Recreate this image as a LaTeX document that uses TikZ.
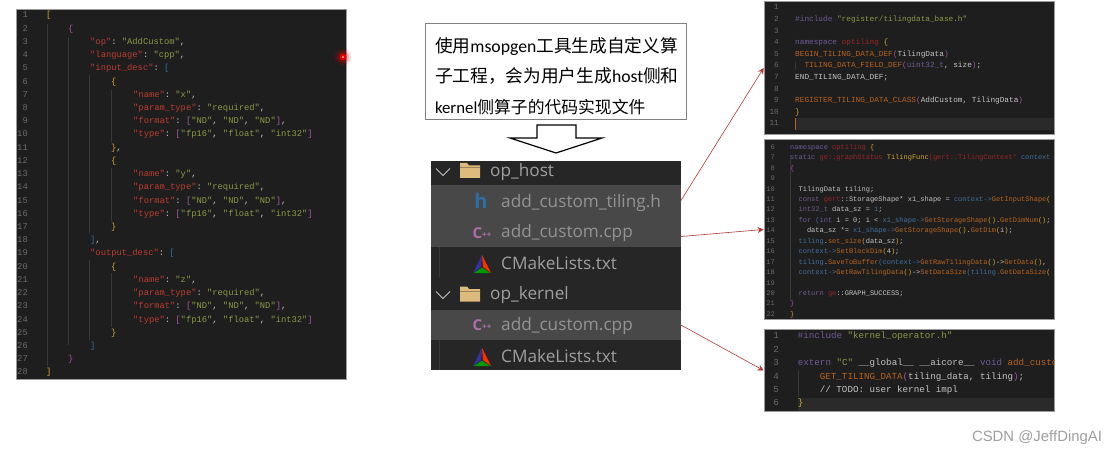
\documentclass[tikz,border=0pt]{standalone}
\usepackage{fontspec}
\setmonofont{Liberation Mono}
\newfontfamily\zhfont{Noto Sans CJK SC}
\newfontfamily\uifont{Open Sans}
\newfontfamily\boxfont{Carlito}
\newfontfamily\markfont{Liberation Sans}
\usepackage{xcolor}
\definecolor{panelbg}{HTML}{1E1E1E}
\definecolor{panelline}{HTML}{9A9A9A}
\definecolor{curline}{HTML}{2A2A2A}
\definecolor{guide}{HTML}{383838}
\definecolor{linenum}{HTML}{6A6A6A}
\definecolor{plain}{HTML}{C4C4C4}
\definecolor{cokey}{HTML}{BC3C30}
\definecolor{costr}{HTML}{8A9A48}
\definecolor{cokw}{HTML}{6F5C98}
\definecolor{cofn}{HTML}{B8641E}
\definecolor{cotype}{HTML}{9A2626}
\definecolor{covar}{HTML}{41709F}
\definecolor{coyel}{HTML}{D0A52C}
\definecolor{copur}{HTML}{A2559F}
\definecolor{coblu}{HTML}{2C6CA8}
\definecolor{rowdark}{HTML}{262627}
\definecolor{rowlit}{HTML}{484848}
\definecolor{arrowred}{HTML}{B23A36}
\definecolor{foldertan}{HTML}{DDBB7C}
\definecolor{hblue}{HTML}{2E6EA6}
\newcommand{\ckey}[1]{\textcolor{cokey}{#1}}
\newcommand{\cstr}[1]{\textcolor{costr}{#1}}
\newcommand{\ckw}[1]{\textcolor{cokw}{#1}}
\newcommand{\cfn}[1]{\textcolor{cofn}{#1}}
\newcommand{\ctype}[1]{\textcolor{cotype}{#1}}
\newcommand{\cvar}[1]{\textcolor{covar}{#1}}
\newcommand{\cyel}[1]{\textcolor{coyel}{#1}}
\newcommand{\cpur}[1]{\textcolor{copur}{#1}}
\newcommand{\cblu}[1]{\textcolor{coblu}{#1}}
\newcommand{\zh}[1]{{\zhfont #1}}
\usepackage{tikz}
\usetikzlibrary{arrows.meta, positioning}

\begin{document}
\begin{tikzpicture}[x=1pt, y=-1pt,
  panel/.style={draw=panelline, fill=panelbg, inner sep=0pt, line width=0.7pt},
  codeline/.style={anchor=west, inner sep=0pt, text height=6pt, text depth=2pt, text=plain},
  numline/.style={anchor=east, inner sep=0pt, text height=6pt, text depth=2pt, text=linenum},
  jsonfont/.style={font=\ttfamily\fontsize{8.8}{10}\selectfont},
  afont/.style={font=\ttfamily\fontsize{7.75}{9}\selectfont},
  bfont/.style={font=\ttfamily\fontsize{7}{8}\selectfont},
  cfont/.style={font=\ttfamily\fontsize{9.2}{11}\selectfont},
  indent/.style={draw=guide, line width=0.6pt},
  filerow/.style={minimum width=250pt, inner sep=0pt, outer sep=0pt},
  filename/.style={anchor=west, inner sep=0pt, font=\uifont\fontsize{17.2}{19}\selectfont},
  redline/.style={-{Stealth[length=6pt, width=6pt]}, draw=arrowred, line width=0.6pt},
  folder/.pic={
    \fill[foldertan] (-10,-7.5) -- (-3,-7.5) -- (-1,-5) -- (10,-5) -- (10,7.5) -- (-10,7.5) -- cycle;
    \fill[foldertan!70!black] (-10,-3) rectangle (10,-2);
  },
  chevron/.pic={
    \draw[plain, line width=0.9pt] (-7,-3.5) -- (0,3.5) -- (7,-3.5);
  },
  cmake/.pic={
    \fill[blue!55!black!80!white] (0,-9) -- (-1,3) -- (-9,9) -- cycle;
    \fill[red!65!orange] (0,-9) -- (9,9) -- (1,3) -- cycle;
    \fill[green!60!black] (-8,9) -- (0,3.5) -- (8,9) -- cycle;
  }
]
  \path[use as bounding box, fill=white] (0,0) rectangle (1116,457);

  \node[panel, minimum width=330pt, minimum height=370pt] (jsonpanel) at (181,194) {};
  \foreach \x/\a/\b in {47/24/366, 68/37/345, 89/75/233, 89/260/340, 111/90/142, 111/168/221, 111/273/327}
    \draw[indent] (\x,\a) -- (\x,\b);
  \foreach \n in {1,...,28}
    \node[numline, jsonfont] (j\n) at (28,{16+13.22*(\n-1)}) {\n};
  \foreach \n/\x/\code in {
    1/46/{\cyel{[}},
    2/68/{\cpur{\{}},
    3/90/{\ckey{"op"}: \cstr{"AddCustom"},},
    4/90/{\ckey{"language"}: \cstr{"cpp"},},
    5/90/{\ckey{"input\_desc"}: \cblu{[}},
    6/111/{\cyel{\{}},
    7/133/{\ckey{"name"}: \cstr{"x"},},
    8/133/{\ckey{"param\_type"}: \cstr{"required"},},
    9/133/{\ckey{"format"}: \cpur{[}\cstr{"ND"}, \cstr{"ND"}, \cstr{"ND"}\cpur{]},},
    10/133/{\ckey{"type"}: \cpur{[}\cstr{"fp16"}, \cstr{"float"}, \cstr{"int32"}\cpur{]}},
    11/111/{\cyel{\}},},
    12/111/{\cyel{\{}},
    13/133/{\ckey{"name"}: \cstr{"y"},},
    14/133/{\ckey{"param\_type"}: \cstr{"required"},},
    15/133/{\ckey{"format"}: \cpur{[}\cstr{"ND"}, \cstr{"ND"}, \cstr{"ND"}\cpur{]},},
    16/133/{\ckey{"type"}: \cpur{[}\cstr{"fp16"}, \cstr{"float"}, \cstr{"int32"}\cpur{]}},
    17/111/{\cyel{\}}},
    18/90/{\cblu{]},},
    19/90/{\ckey{"output\_desc"}: \cblu{[}},
    20/111/{\cyel{\{}},
    21/133/{\ckey{"name"}: \cstr{"z"},},
    22/133/{\ckey{"param\_type"}: \cstr{"required"},},
    23/133/{\ckey{"format"}: \cpur{[}\cstr{"ND"}, \cstr{"ND"}, \cstr{"ND"}\cpur{]},},
    24/133/{\ckey{"type"}: \cpur{[}\cstr{"fp16"}, \cstr{"float"}, \cstr{"int32"}\cpur{]}},
    25/111/{\cyel{\}}},
    26/90/{\cblu{]}},
    27/68/{\cpur{\}}},
    28/46/{\cyel{]}}}
    \node[codeline, jsonfont] (js\n) at (\x,{16+13.22*(\n-1)}) {\code};

  \fill[red, opacity=0.12] (343,57) circle (8.5);
  \fill[red, opacity=0.2] (343,57) circle (6);
  \fill[red!90!black] (343,57) circle (3.5);
  \fill[red!30!white] (343,57) circle (1.2);

  \node[draw=gray, fill=white, line width=0.7pt, inner xsep=9.5pt, inner ysep=0pt,
    minimum width=261pt, minimum height=96pt, text width=242pt, align=left,
    font=\boxfont\fontsize{17.7}{30.5}\selectfont] (intro) at (556,71)
    {\rule{0pt}{25pt}\zh{使用}msopgen\zh{工具生成自定义算}\\
     \zh{子工程，会为用户生成}host\zh{侧和}\\
     {\fontsize{16.8}{30.5}\selectfont kernel\zh{侧算子的代码实现文件}}};
  \draw[black, fill=white, line width=1.2pt] (537,125) -- (576,125) -- (576,138) -- (602,138)
    -- (556,153) -- (510,138) -- (537,138) -- cycle;

  \node[filerow, fill=rowdark, minimum height=24pt]  (hostrow) at (556,173) {};
  \node[filerow, fill=rowlit, minimum height=31pt]   (tilingrow) at (556,200.5) {};
  \node[filerow, fill=rowlit, minimum height=31pt]   (cpprow) at (556,231.5) {};
  \node[filerow, fill=rowdark, minimum height=32pt]  (cmakerow) at (556,263) {};
  \node[filerow, fill=rowdark, minimum height=31pt]  (kernelrow) at (556,294.5) {};
  \node[filerow, fill=rowlit, minimum height=30pt]   (kcpprow) at (556,325) {};
  \node[filerow, fill=rowdark, minimum height=30pt]  (kcmakerow) at (556,355) {};
  \draw[indent] (439,247) -- (439,277);
  \draw[indent] (439,340) -- (439,370);

  \pic at (443,172) {chevron};
  \pic at (470,170.5) {folder};
  \pic at (443,295) {chevron};
  \pic at (470,294) {folder};
  \pic at (482,264) {cmake};
  \pic at (482,357) {cmake};
  \node[font=\uifont\bfseries\fontsize{20}{22}\selectfont, text=hblue, inner sep=0pt] (hicon) at (481,201) {h};
  \node[font=\uifont\bfseries\fontsize{15}{16}\selectfont, text=copur!85!white, inner sep=0pt] (cppa) at (482,233) {C\raisebox{1pt}{\fontsize{8}{8}\selectfont ++}};
  \node[font=\uifont\bfseries\fontsize{15}{16}\selectfont, text=copur!85!white, inner sep=0pt] (cppb) at (482,325.5) {C\raisebox{1pt}{\fontsize{8}{8}\selectfont ++}};
  \node[filename, text=gray!75] (hostname) at (490,172) {op\_host};
  \node[filename, text=gray!85] (tilingname) at (501,203) {add\_custom\_tiling.h};
  \node[filename, text=gray!85] (cppname) at (501,233) {add\_custom.cpp};
  \node[filename, text=gray!75] (cmakename) at (501,263) {CMakeLists.txt};
  \node[filename, text=gray!75] (kernelname) at (490,295.5) {op\_kernel};
  \node[filename, text=gray!85] (kcppname) at (501,326) {add\_custom.cpp};
  \node[filename, text=gray!75] (kcmakename) at (501,356.5) {CMakeLists.txt};

  \node[panel, minimum width=290pt, minimum height=132.5pt] (panela) at (909,68) {};
  \fill[curline] (795,118) rectangle (1053.6,130);
  \draw[cofn, line width=1pt] (795,118) -- (795,130);
  \draw[indent] (795,62) -- (795,70);
  \foreach \n in {1,...,11}
    \node[numline, afont] (a\n) at (779,{8+11.6*(\n-1)}) {\n};
  \foreach \n/\x/\code in {
    2/795/{\ckw{\#include} \cstr{"register/tilingdata\_base.h"}},
    4/795/{\ckw{namespace} \ctype{optiling} \cyel{\{}},
    5/795/{\cfn{BEGIN\_TILING\_DATA\_DEF}\cpur{(}TilingData\cpur{)}},
    6/804.3/{\cfn{TILING\_DATA\_FIELD\_DEF}\cpur{(}\ckw{uint32\_t}, size\cpur{)};},
    7/795/{END\_TILING\_DATA\_DEF;},
    9/795/{\cfn{REGISTER\_TILING\_DATA\_CLASS}\cpur{(}AddCustom, TilingData\cpur{)}},
    10/795/{\cyel{\}}}}
    \node[codeline, afont] (as\n) at (\x,{8+11.6*(\n-1)}) {\code};

  \node[panel, minimum width=290pt, minimum height=179.5pt] (panelb) at (909,229.5) {};
  \draw[indent] (790,155) -- (790,300);
  \foreach \n in {6,...,22}
    \node[numline, bfont] (b\n) at (775,{147.3+10.44*(\n-6)}) {\n};
  \begin{scope}
    \clip (panelb.south west) rectangle (panelb.north east);
    \foreach \n/\x/\code in {
      6/790/{\ckw{namespace} \ctype{optiling} \cyel{\{}},
      7/790/{\ckw{static} \ctype{ge::graphStatus} \cyel{TilingFunc}\ctype{(gert::TilingContext*} \cvar{context}},
      8/790/{\cpur{\{}},
      10/798.4/{TilingData tiling;},
      11/798.4/{\ckw{const} \ctype{gert}::StorageShape* x1\_shape = \cvar{context->}\cfn{GetInputShape}\cyel{(}},
      12/798.4/{\ckw{int32\_t} data\_sz = \cvar{1};},
      13/798.4/{\ckw{for} \cvar{(}\ckw{int} i = 0; i < \cvar{x1\_shape->}\cfn{GetStorageShape}\cyel{()}.\cfn{GetDimNum}\cyel{()};},
      14/806.8/{data\_sz *= \cvar{x1\_shape->}\cfn{GetStorageShape}\cyel{()}.\cfn{GetDim}\cyel{(}i\cyel{)};},
      15/798.4/{\cvar{tiling}.\cfn{set\_size}\cyel{(}data\_sz\cyel{)};},
      16/798.4/{\cvar{context->}\cfn{SetBlockDim}\cyel{(}4\cyel{)};},
      17/798.4/{\cvar{tiling}.\cfn{SaveToBuffer}\cvar{(context->}\cfn{GetRawTilingData}\cyel{()}->\cfn{GetData}\cyel{()}, },
      18/798.4/{\cvar{context->}\cfn{GetRawTilingData}\cyel{()}->\cfn{SetDataSize}\cvar{(tiling.}\cfn{GetDataSize}\cyel{(}},
      20/798.4/{\ckw{return} \ctype{ge}::GRAPH\_SUCCESS;},
      21/790/{\cpur{\}}},
      22/790/{\cyel{\}}}}
      \node[codeline, bfont] (bs\n) at (\x,{147.3+10.44*(\n-6)}) {\code};
  \end{scope}

  \node[panel, minimum width=290pt, minimum height=82.5pt] (panelc) at (909,370.5) {};
  \fill[curline] (798,398) rectangle (1053.6,410.5);
  \draw[indent] (798,370) -- (798,397);
  \foreach \n in {1,...,6}
    \node[numline, cfont] (c\n) at (779,{336.7+13.45*(\n-1)}) {\n};
  \begin{scope}
    \clip (panelc.south west) rectangle (panelc.north east);
    \foreach \n/\x/\code in {
      1/797.7/{\ckw{\#include} \cstr{"kernel\_operator.h"}},
      3/797.7/{\ckw{extern} \cstr{"C"} \_\_global\_\_ \_\_aicore\_\_ \ckw{void} \cfn{add\_custo}},
      4/819.7/{\cfn{GET\_TILING\_DATA}\cpur{(}tiling\_data, tiling\cpur{)};},
      5/819.7/{// TODO: user kernel impl},
      6/797.7/{\cyel{\}}}}
      \node[codeline, cfont] (cs\n) at (\x,{336.7+13.45*(\n-1)}) {\code};
  \end{scope}

  \draw[redline] (tilingrow.east) -- (panela.west);
  \draw[redline] ([yshift=-5pt]cpprow.east) -- (panelb.west);
  \draw[redline] (kcpprow.east) -- (panelc.west);

  \node[font=\markfont\fontsize{14.9}{16}\selectfont, text=gray!75, inner sep=0pt] (mark) at (1037,438) {CSDN @JeffDingAI};
\end{tikzpicture}
\end{document}
